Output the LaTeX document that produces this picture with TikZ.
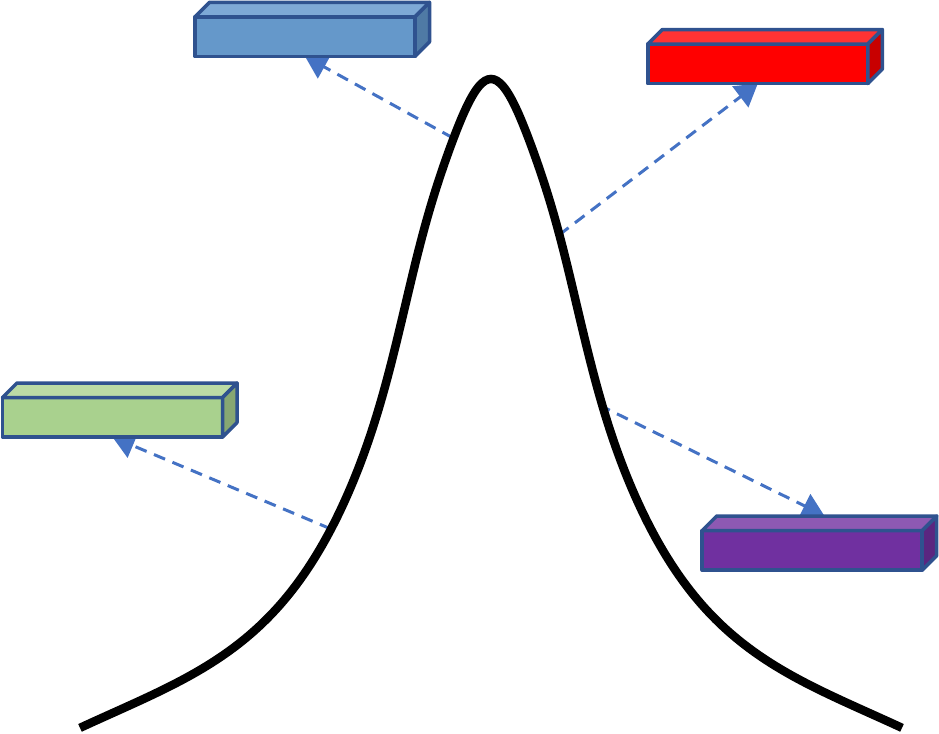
\documentclass[tikz,border=0pt]{standalone}
\usepackage{tikz}
\usetikzlibrary{positioning, arrows.meta, backgrounds}

\definecolor{edgeblue}{HTML}{2F528F}
\definecolor{linkblue}{HTML}{4472C4}
\definecolor{bluefront}{HTML}{6598CA}
\definecolor{bluetop}{HTML}{7EA9D6}
\definecolor{blueside}{HTML}{4F7AA5}
\definecolor{redfront}{HTML}{FF0000}
\definecolor{redtop}{HTML}{FF3333}
\definecolor{redside}{HTML}{C80000}
\definecolor{greenfront}{HTML}{A9D18E}
\definecolor{greentop}{HTML}{BBDBA5}
\definecolor{greenside}{HTML}{87A772}
\definecolor{purplefront}{HTML}{7030A0}
\definecolor{purpletop}{HTML}{8D59B3}
\definecolor{purpleside}{HTML}{5A2680}

% top and side face of a bar
\newcommand{\barfaces}[3]{%
    \filldraw[faceline, fill=#2] (#1.north west) -- ++(14.5,-14.5)
        -- ([shift={(14.5,-14.5)}]#1.north east) -- (#1.north east) -- cycle;
    \filldraw[faceline, fill=#3] (#1.north east) -- ++(14.5,-14.5)
        -- ([shift={(14.5,-14.5)}]#1.south east) -- (#1.south east) -- cycle;
}

\begin{document}
\begin{tikzpicture}[x=0.025cm, y=-0.025cm,
    declare function={
        sq(\t)=\t*\t;
        warp(\t)=\t*(1-0.09*exp(-sq((abs(\t)-62)/35)));
        tl(\t)=max(0,abs(\t)-200)/100;
        peak(\t)=760-681/(1+sq(warp(\t)/114.6))+1.81*sq(tl(\t))*tl(\t);
    },
    faceline/.style={draw=edgeblue, line width=0.0875cm, line join=round},
    barfront/.style={faceline, minimum width=5.5cm, minimum height=0.9875cm,
        inner sep=0pt, outer sep=0pt},
    dashlink/.style={linkblue, line width=0.075cm, dash pattern=on 0.3cm off 0.2cm,
        -{Triangle[length=0.55cm, width=0.65cm]}}]

    \useasboundingbox (0,0) rectangle (939,734);

    % Peak
    \draw[line width=0.2125cm] plot[domain=-411:411, samples=275, smooth]
        ({491+\x}, {peak(\x)});

    \coordinate (onblue) at (453,138);
    \coordinate (onred) at (559,235);
    \coordinate (ongreen) at (331,529);
    \coordinate (onpurple) at (599,405);

    % Bars
    \node[barfront, fill=bluefront] (bluebar) at (305,36.6) {};
    \barfaces{bluebar}{bluetop}{blueside}
    \node[barfront, fill=redfront] (redbar) at (757.8,63.8) {};
    \barfaces{redbar}{redtop}{redside}
    \node[barfront, fill=greenfront] (greenbar) at (112.5,417.3) {};
    \barfaces{greenbar}{greentop}{greenside}
    \node[barfront, fill=purplefront] (purplebar) at (812.2,550.3) {};
    \barfaces{purplebar}{purpletop}{purpleside}

    % Links behind the bars
    \begin{scope}[on background layer]
        \draw[dashlink] (onblue) -- (bluebar.south);
        \draw[dashlink] (onred) -- (redbar.south);
        \draw[dashlink] (ongreen) -- (greenbar.south);
        \draw[dashlink] (onpurple) -- ([shift={(12,-15)}]purplebar.north);
    \end{scope}

\end{tikzpicture}
\end{document}
